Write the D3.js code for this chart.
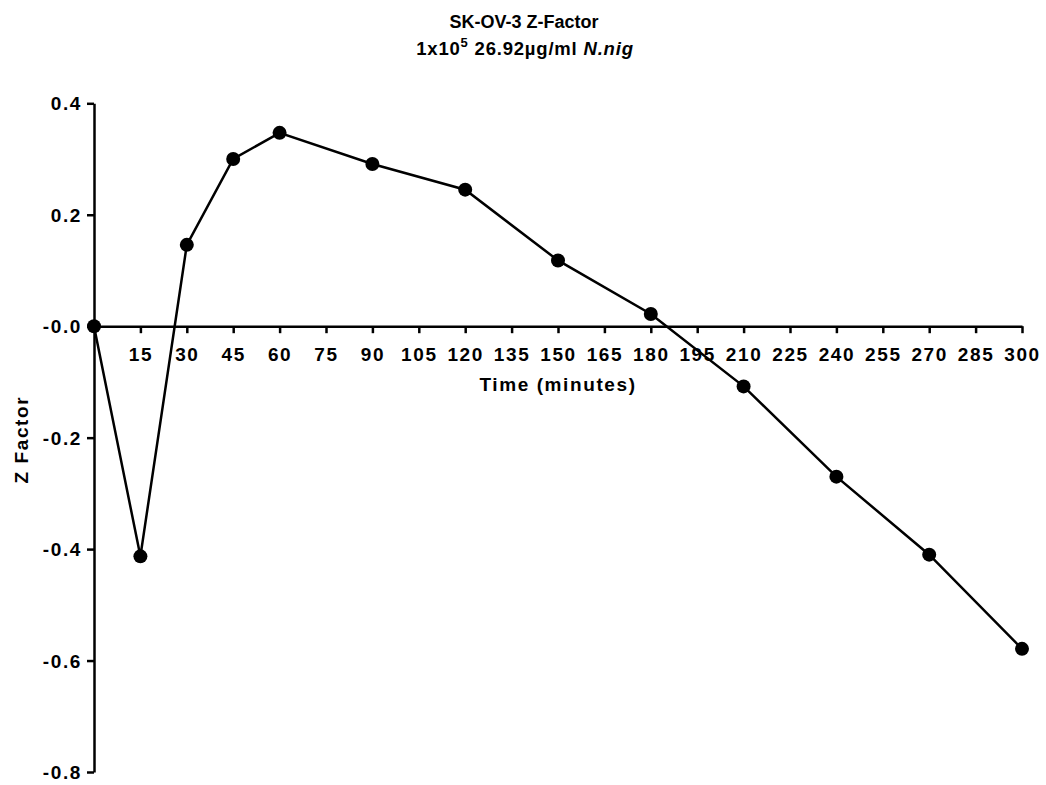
<!DOCTYPE html>
<html>
<head>
<meta charset="utf-8">
<script src="https://cdn.jsdelivr.net/npm/d3@7"></script>
<style>
  body { margin: 0; background: #fff; }
  svg { font-family: "Liberation Sans", Arial, sans-serif; font-weight: bold; }
  .axis path, .axis line { stroke: #000; stroke-width: 2.5; }
  .axis text { font-size: 19px; font-weight: bold; fill: #000; letter-spacing: 1.6px; }
  .label { font-size: 19px; letter-spacing: 1.6px; }
</style>
</head>
<body>
<svg id="chart" width="1046" height="785"></svg>
<script>
// time points (minutes) and Z factor values
var times = [0, 15, 30, 45, 60, 90, 120, 150, 180, 210, 240, 270, 300];
var zFactor = [0.0, -0.413, 0.146, 0.300, 0.347, 0.291, 0.245, 0.118, 0.022, -0.108, -0.270, -0.410, -0.579];
var xTicks = [15, 30, 45, 60, 75, 90, 105, 120, 135, 150, 165, 180, 195, 210, 225, 240, 255, 270, 285, 300];
var yTicks = [0.4, 0.2, 0.0, -0.2, -0.4, -0.6, -0.8];

var margin = {top: 103.3, right: 24, bottom: 13, left: 94},
  width = 1046 - margin.left - margin.right,
  height = 785 - margin.top - margin.bottom;

var svg = d3.select("#chart");
var g = svg.append("g").attr("transform", `translate(${margin.left},${margin.top})`);

var x = d3.scaleLinear().domain([0, 300]).range([0, width]);
var y = d3.scaleLinear().domain([-0.8, 0.4]).range([height, 0]);

// y axis (plain hyphen for the sign, like the original)
var yAxis = d3.axisLeft(y).tickValues(yTicks).tickSize(7).tickSizeOuter(0).tickPadding(5)
  .tickFormat(function(d) {
    return d === 0 ? "-0.0" : d3.format(".1f")(d).replace("\u2212", "-");
  });
g.append("g").attr("class", "axis").call(yAxis)
  .call(s => s.selectAll("text").attr("dy", "0.34em"));

// x axis through zero
var xAxis = d3.axisBottom(x).tickValues(xTicks).tickSize(7).tickSizeOuter(0).tickPadding(14);
g.append("g").attr("class", "axis").attr("transform", `translate(0,${y(0)})`).call(xAxis);

// axis labels
g.append("text").attr("class", "label")
  .attr("x", width / 2).attr("y", y(0) + 64.5)
  .attr("text-anchor", "middle")
  .text("Time (minutes)");

svg.append("text").attr("class", "label")
  .attr("transform", `translate(28,${margin.top + height / 2 + 2}) rotate(-90)`)
  .attr("text-anchor", "middle")
  .text("Z Factor");

// title
svg.append("text").attr("text-anchor", "middle").style("font-size", "18px")
  .attr("x", 524).attr("y", 28).text("SK-OV-3 Z-Factor");
var t2 = svg.append("text").attr("text-anchor", "middle")
  .style("font-size", "18.5px").style("letter-spacing", "0.8px")
  .attr("x", 525).attr("y", 55);
t2.append("tspan").text("1x10");
t2.append("tspan").attr("dy", -8).style("font-size", "13px").text("5");
t2.append("tspan").attr("dy", 8).text(" 26.92\u00b5g/ml ");
t2.append("tspan").style("font-style", "italic").text("N.nig");

// line and points
var pts = times.map((t, i) => ({t: t, v: zFactor[i]}));
var line = d3.line().x(d => x(d.t)).y(d => y(d.v));
g.append("path").datum(pts)
  .attr("fill", "none").attr("stroke", "#000").attr("stroke-width", 2.5)
  .attr("d", line);
g.selectAll("circle").data(pts).enter().append("circle")
  .attr("cx", d => x(d.t)).attr("cy", d => y(d.v)).attr("r", 7).attr("fill", "#000");
</script>
</body>
</html>
